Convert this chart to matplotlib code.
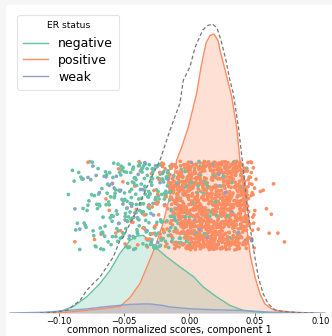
import numpy as np
import matplotlib.pyplot as plt
from matplotlib.lines import Line2D
from matplotlib.patches import Rectangle

# KDE curves (x = score, y = density), one per ER status plus the pooled curve
neg_x = [-0.1141, -0.0989, -0.0887, -0.0785, -0.0683, -0.0607, -0.0531, -0.0454, -0.0408, -0.0355,
         -0.0309, -0.0263, -0.0174, -0.0073, 0.0029, 0.0105, 0.0208, 0.0309, 0.0411, 0.0513, 0.0615, 0.0767]
neg_y = [0.0, 0.10, 0.43, 1.07, 1.97, 2.83, 3.97, 4.83, 5.10, 5.17,
         4.87, 4.40, 3.73, 3.07, 2.43, 1.73, 1.07, 0.50, 0.17, 0.07, 0.02, 0.0]

pos_x = [-0.1100, -0.0966, -0.0836, -0.0683, -0.0607, -0.0531, -0.0454, -0.0378, -0.0327, -0.0263, -0.0202,
         -0.0149, -0.0124, -0.0098, -0.0060, -0.0009, 0.0055, 0.0088, 0.0126, 0.0156, 0.0187, 0.0218,
         0.0233, 0.0263, 0.0294, 0.0322, 0.0360, 0.0385, 0.0411, 0.0437, 0.0462, 0.0500, 0.0538,
         0.0576, 0.0627, 0.0666, 0.0790, 0.0920]
pos_y = [0.0, 0.03, 0.13, 0.27, 0.35, 0.43, 1.03, 1.97, 3.03, 4.37, 5.97,
         7.83, 8.83, 10.17, 11.03, 12.37, 14.63, 16.37, 17.97, 18.47, 18.57, 18.13,
         17.47, 16.47, 15.40, 14.40, 12.40, 10.17, 7.93, 5.73, 3.93, 2.40, 1.27,
         0.60, 0.27, 0.17, 0.05, 0.01]

weak_x = [-0.1370, -0.1256, -0.1103, -0.0989, -0.0785, -0.0632, -0.0454, -0.0355, -0.0302, -0.0202,
          -0.0149, 0.0004, 0.0208, 0.0408, 0.0589, 0.0790, 0.0920, 0.1034]
weak_y = [0.0, 0.02, 0.05, 0.13, 0.27, 0.43, 0.57, 0.60, 0.60, 0.50,
          0.40, 0.28, 0.21, 0.17, 0.07, 0.03, 0.01, 0.0]

all_x = [-0.1141, -0.1065, -0.0937, -0.0836, -0.0785, -0.0734, -0.0683, -0.0632, -0.0582, -0.0531,
         -0.0505, -0.0403, -0.0302, -0.0225, -0.0149, -0.0073, -0.0047, 0.0004, 0.0042, 0.0101,
         0.0137, 0.0177, 0.0210, 0.0240, 0.0279, 0.0309, 0.0334, 0.0373, 0.0403, 0.0429,
         0.0462, 0.0495, 0.0525, 0.0563, 0.0602, 0.0653, 0.0714, 0.0844, 0.0958]
all_y = [0.0, 0.02, 0.17, 0.83, 1.50, 1.97, 2.40, 3.07, 3.73, 4.83,
         5.07, 6.83, 8.83, 10.17, 12.17, 13.97, 15.50, 16.40, 17.67, 18.83,
         19.13, 19.23, 18.97, 18.17, 16.80, 15.47, 14.63, 12.40, 10.17, 7.97,
         5.73, 3.93, 2.40, 1.27, 0.60, 0.20, 0.10, 0.02, 0.0]

# strip of samples: counts per 0.005-wide score bin
bin_left = [-0.095, -0.09, -0.085, -0.08, -0.075, -0.07, -0.065, -0.06, -0.055, -0.05, -0.045, -0.04,
            -0.035, -0.03, -0.025, -0.02, -0.015, -0.01, -0.005, 0.0, 0.005, 0.01, 0.015, 0.02,
            0.025, 0.03, 0.035, 0.04, 0.045, 0.05, 0.055, 0.06, 0.065, 0.07]
neg_counts = [1, 4, 6, 7, 9, 12, 13, 15, 17, 20, 22, 23,
              24, 24, 22, 20, 17, 14, 12, 10, 8, 6, 5, 4,
              3, 3, 2, 2, 1, 0, 0, 0, 0, 0]
pos_counts = [0, 1, 0, 1, 1, 1, 2, 2, 3, 3, 4, 5,
              6, 8, 12, 16, 45, 80, 85, 88, 88, 88, 88, 88,
              88, 85, 82, 72, 22, 3, 2, 3, 1, 1]
weak_counts = [0, 1, 2, 1, 2, 2, 2, 3, 3, 3, 3, 3,
               3, 3, 3, 2, 2, 2, 2, 2, 1, 2, 1, 1,
               1, 1, 1, 1, 1, 0, 0, 0, 0, 0]

labels = ['negative', 'positive', 'weak']
colors = ['#66c2a5', '#fc8d62', '#8da0cb']
bin_w = 0.005
strip_lo, strip_hi = 4.2, 10.1

fig = plt.figure(figsize=(3.32, 3.36), dpi=100, facecolor='#f6f6f6')
fig.patches.append(Rectangle((6 / 332, 0), 326 / 332, 331 / 336, transform=fig.transFigure,
                             facecolor='white', edgecolor='none', zorder=-5))
ax = fig.add_axes([6 / 332, 23 / 336, 326 / 332, 308 / 336])
ax.set_zorder(1)
ax.set_facecolor('white')

for xs, ys, c in [(neg_x, neg_y, colors[0]), (pos_x, pos_y, colors[1]), (weak_x, weak_y, colors[2])]:
    ax.fill_between(xs, ys, color=c, alpha=0.27, lw=0, zorder=1)
    ax.plot(xs, ys, color=c, lw=1, zorder=2)
ax.plot(all_x, all_y, color='#777777', lw=0.9, ls=(0, (3, 2)), zorder=4)

# spread each bin's samples across the bin, jitter vertically
px, pc = [], []
rng = np.random.default_rng(7)
for counts, c in zip([neg_counts, pos_counts, weak_counts], colors):
    for left, n in zip(bin_left, counts):
        for k in range(n):
            px.append(left + (k + 0.5) / n * bin_w)
            pc.append(c)
py = rng.uniform(strip_lo, strip_hi, len(px))
order = rng.permutation(len(px))
ax.scatter(np.array(px)[order], py[order], c=np.array(pc)[order], s=7, lw=0, zorder=3)

ax.set_xlim(-0.1401, 0.1088)
ax.set_ylim(0, 20.5)
ax.set_yticks([])
for s in ax.spines.values():
    s.set_visible(False)
ax.set_xticks([-0.10, -0.05, 0.0, 0.05, 0.10])
ax.set_xticklabels(['\u22120.10', '\u22120.05', '0.00', '0.05', '0.10'])
ax.tick_params(axis='x', labelsize=6, length=2, width=0.6, pad=1, color='#555555')
ax.set_xlabel('common normalized scores, component 1', fontsize=7, labelpad=-1)

handles = [Line2D([0], [0], color=c, lw=1) for c in colors]
leg = ax.legend(handles, labels, title='ER status', loc='upper left', bbox_to_anchor=(0.034, 0.968),
                borderaxespad=0, fontsize=9, title_fontsize=6.6, labelspacing=0.3, borderpad=0.5,
                handlelength=2.0, handletextpad=0.8, frameon=True)
leg._legend_box.sep = 5
leg.get_frame().set_edgecolor('#dddddd')
leg.get_frame().set_linewidth(0.8)

fig.savefig('out.png', dpi=100, facecolor=fig.get_facecolor())
